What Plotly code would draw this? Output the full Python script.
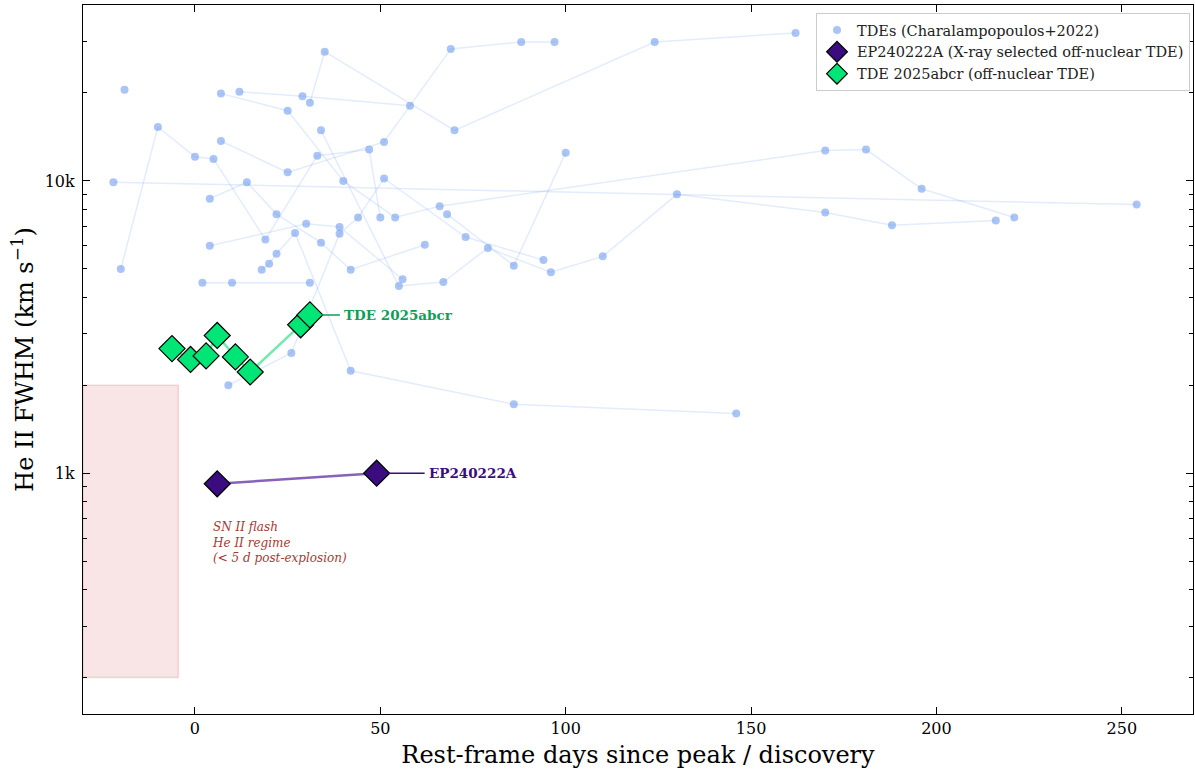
import math
import plotly.graph_objects as go

# --- TDE comparison sample (Charalampopoulos+2022): He II FWHM evolution per object ---
tde01_days = [-19]
tde01_fwhm = [20500]
tde02_days = [-20, -10, 0, 5, 19, 33, 47, 50]
tde02_fwhm = [5000, 15300, 12100, 11900, 6300, 12200, 12800, 7500]
tde03_days = [7, 25, 51, 58, 69, 88, 97]
tde03_fwhm = [13700, 10700, 13600, 18100, 28300, 29900, 29900]
tde04_days = [7, 25, 40, 54, 66, 170, 181, 196, 221]
tde04_fwhm = [19900, 17400, 10000, 7500, 8200, 12700, 12800, 9400, 7500]
tde05_days = [12, 29, 58]
tde05_fwhm = [20200, 19500, 18100]
tde06_days = [31, 35, 70, 124, 162]
tde06_fwhm = [18500, 27700, 14900, 29900, 32100]
tde07_days = [34, 55, 67, 79, 96, 110, 130, 170, 188, 216]
tde07_fwhm = [14900, 4370, 4510, 5900, 4870, 5520, 9000, 7800, 7050, 7330]
tde08_days = [-22, 254]
tde08_fwhm = [9900, 8300]
tde09_days = [4, 14, 22, 34, 42, 62]
tde09_fwhm = [8700, 9900, 7700, 6150, 4970, 6050]
tde10_days = [9, 26, 39, 44, 51, 73, 94]
tde10_fwhm = [2000, 2580, 6600, 7500, 10200, 6430, 5360]
tde11_days = [2, 10, 31]
tde11_fwhm = [4480, 4480, 4480]
tde12_days = [18, 20, 22, 27, 42, 86, 146]
tde12_fwhm = [4970, 5210, 5640, 6640, 2240, 1720, 1600]
tde13_days = [4, 30, 39, 56]
tde13_fwhm = [6000, 7140, 6960, 4610]
tde14_days = [68, 86, 100]
tde14_fwhm = [7700, 5130, 12500]

# --- EP240222A (X-ray selected off-nuclear TDE) ---
ep_days = [6, 49]
ep_fwhm = [920, 1000]

# --- TDE 2025abcr (off-nuclear TDE) ---
abcr_days = [-6.2, -1.2, 3.0, 6.0, 10.9, 14.9, 28.5, 31.0]
abcr_fwhm = [2670, 2450, 2520, 2960, 2500, 2220, 3220, 3480]

# --- SN II flash-ionisation He II regime ---
sn_flash_days = [-30.2, -4.5]
sn_flash_fwhm = [200, 2000]

# axis limits and ticks
x_limits = [-30.2, 269.2]
y_limits = [150, 40000]
x_ticks = [0, 50, 100, 150, 200, 250]
y_ticks = [1000, 10000]
y_tick_text = ["1k", "10k"]
y_minor = [m * 10 ** e for e in (2, 3, 4) for m in range(2, 10)]
y_minor = [v for v in y_minor if y_limits[0] <= v <= y_limits[1]]

tde_series = [
    (tde01_days, tde01_fwhm), (tde02_days, tde02_fwhm), (tde03_days, tde03_fwhm),
    (tde04_days, tde04_fwhm), (tde05_days, tde05_fwhm), (tde06_days, tde06_fwhm),
    (tde07_days, tde07_fwhm), (tde08_days, tde08_fwhm), (tde09_days, tde09_fwhm),
    (tde10_days, tde10_fwhm), (tde11_days, tde11_fwhm), (tde12_days, tde12_fwhm),
    (tde13_days, tde13_fwhm), (tde14_days, tde14_fwhm),
]

SERIF = "DejaVu Serif, Liberation Serif, serif"
TDE_BLUE = "rgba(100,149,237,0.55)"
TDE_LINE = "rgba(100,149,237,0.18)"
EP_FILL = "#3a0c80"
EP_LINE = "rgba(95,45,160,0.75)"
ABCR_FILL = "#00e676"
ABCR_LINE = "rgba(0,215,110,0.55)"
ABCR_TEXT = "#0f9d58"
EP_TEXT = "#3a0c80"
SN_TEXT = "#a63a32"

fig = go.Figure()

# shaded SN II flash region
fig.add_trace(go.Scatter(
    x=[sn_flash_days[0], sn_flash_days[1], sn_flash_days[1], sn_flash_days[0], sn_flash_days[0]],
    y=[sn_flash_fwhm[0], sn_flash_fwhm[0], sn_flash_fwhm[1], sn_flash_fwhm[1], sn_flash_fwhm[0]],
    mode="lines", fill="toself", fillcolor="rgba(220,110,110,0.18)",
    line=dict(color="rgba(220,110,110,0.25)", width=1.5),
    showlegend=False, hoverinfo="skip",
))

# TDE tracks (lines joined with gaps between objects); shared epochs plotted once
line_x, line_y, pts_x, pts_y = [], [], [], []
seen = set()
for days, fwhm in tde_series:
    line_x += list(days) + [None]
    line_y += list(fwhm) + [None]
    for d, f in zip(days, fwhm):
        if (d, f) not in seen:
            seen.add((d, f))
            pts_x.append(d)
            pts_y.append(f)

fig.add_trace(go.Scatter(
    x=line_x, y=line_y, mode="lines",
    line=dict(color=TDE_LINE, width=1.5),
    showlegend=False, hoverinfo="skip",
))
fig.add_trace(go.Scatter(
    x=pts_x, y=pts_y, mode="markers",
    marker=dict(color=TDE_BLUE, size=8, line=dict(width=0)),
    name="TDEs (Charalampopoulos+2022)",
))

# EP240222A
fig.add_trace(go.Scatter(
    x=ep_days, y=ep_fwhm, mode="lines",
    line=dict(color=EP_LINE, width=2.5),
    showlegend=False, hoverinfo="skip",
))
fig.add_trace(go.Scatter(
    x=ep_days, y=ep_fwhm, mode="markers",
    marker=dict(symbol="diamond", size=20, color=EP_FILL, line=dict(color="black", width=1.2)),
    name="EP240222A (X-ray selected off-nuclear TDE)",
))

# TDE 2025abcr
fig.add_trace(go.Scatter(
    x=abcr_days, y=abcr_fwhm, mode="lines",
    line=dict(color=ABCR_LINE, width=2.5),
    showlegend=False, hoverinfo="skip",
))
fig.add_trace(go.Scatter(
    x=abcr_days, y=abcr_fwhm, mode="markers",
    marker=dict(symbol="diamond", size=20, color=ABCR_FILL, line=dict(color="black", width=1.2)),
    name="TDE 2025abcr (off-nuclear TDE)",
))

# labels with leader lines
fig.add_annotation(
    x=abcr_days[-1], y=math.log10(abcr_fwhm[-1]), xref="x", yref="y",
    text="<b>TDE 2025abcr</b>", showarrow=True, arrowhead=0, arrowwidth=1.6,
    arrowcolor=ABCR_TEXT, ax=30, ay=0, xanchor="left", standoff=12, borderpad=3,
    font=dict(family=SERIF, size=13.5, color=ABCR_TEXT),
)
fig.add_annotation(
    x=ep_days[-1], y=math.log10(ep_fwhm[-1]), xref="x", yref="y",
    text="<b>EP240222A</b>", showarrow=True, arrowhead=0, arrowwidth=1.6,
    arrowcolor=EP_TEXT, ax=48, ay=0, xanchor="left", standoff=12, borderpad=3,
    font=dict(family=SERIF, size=13.5, color=EP_TEXT),
)
fig.add_annotation(
    x=4, y=math.log10(700), xref="x", yref="y",
    text="<i>SN II flash<br>He II regime<br>(< 5 d post-explosion)</i>",
    showarrow=False, xanchor="left", yanchor="top", align="left",
    font=dict(family=SERIF, size=12, color=SN_TEXT),
)

fig.update_layout(
    width=1195, height=772,
    margin=dict(l=83, r=2, t=5, b=58),
    paper_bgcolor="white", plot_bgcolor="white",
    font=dict(family=SERIF, color="black"),
    legend=dict(
        x=0.9973, y=0.9887, xanchor="right", yanchor="top",
        bgcolor="rgba(255,255,255,0.85)", bordercolor="#cccccc", borderwidth=1,
        font=dict(family=SERIF, size=14.5, color="#222222"),
        tracegroupgap=0, itemsizing="trace",
    ),
    xaxis=dict(
        range=x_limits, tickvals=x_ticks, ticks="inside", ticklen=7, tickwidth=1,
        tickcolor="black", showline=True, linecolor="black", linewidth=1.2,
        mirror="ticks", showgrid=False, zeroline=False, ticklabelstandoff=0,
        tickfont=dict(family=SERIF, size=16),
        title=dict(text="Rest-frame days since peak / discovery",
                   font=dict(family=SERIF, size=24), standoff=8),
    ),
    yaxis=dict(
        type="log", range=[math.log10(y_limits[0]), math.log10(y_limits[1])],
        tickvals=y_ticks, ticktext=y_tick_text, ticks="inside", ticklen=7, tickwidth=1,
        tickcolor="black", showline=True, linecolor="black", linewidth=1.2,
        mirror="ticks", showgrid=False, zeroline=False, ticklabelstandoff=4,
        tickfont=dict(family=SERIF, size=16),
        minor=dict(tickvals=y_minor, ticks="inside", ticklen=4, tickcolor="black", showgrid=False),
        title=dict(text="He II FWHM (km s<sup>−1</sup>)",
                   font=dict(family=SERIF, size=24), standoff=4),
    ),
)

fig.write_html("out.html")
